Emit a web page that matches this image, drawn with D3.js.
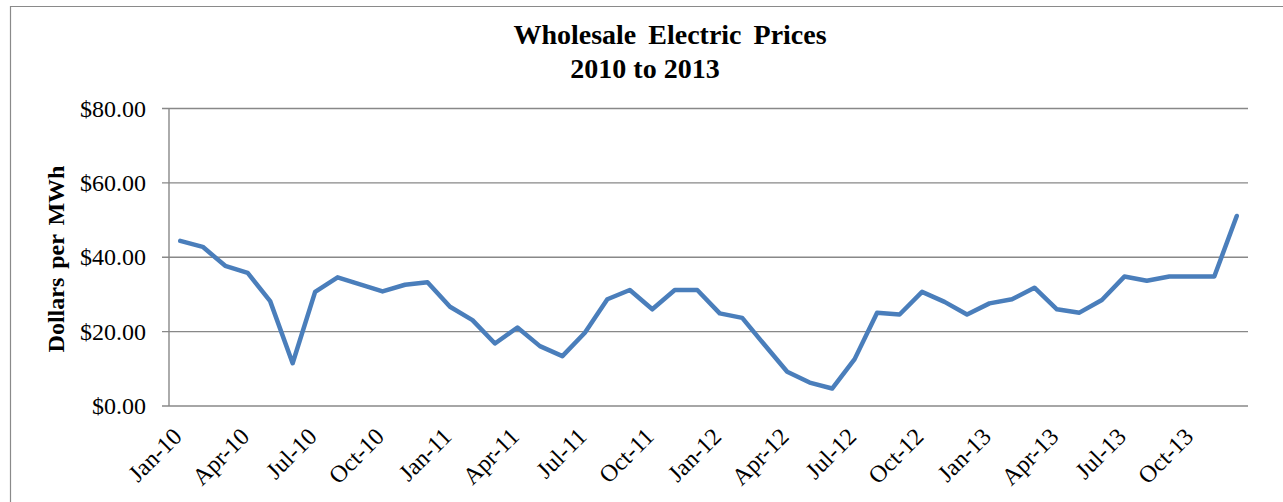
<!DOCTYPE html>
<html>
<head>
<meta charset="utf-8">
<script src="https://cdn.jsdelivr.net/npm/d3@7"></script>
<style>
  body { margin: 0; background: #fff; }
  svg { display: block; font-family: "Liberation Serif", "Times New Roman", serif; }
</style>
</head>
<body>
<div class="chart"></div>
<script>
// monthly wholesale prices, Jan-10 .. Dec-13
var months = [];
var monthNames = ["Jan","Feb","Mar","Apr","May","Jun","Jul","Aug","Sep","Oct","Nov","Dec"];
var years = ["10","11","12","13"];
years.forEach(function(y){
  monthNames.forEach(function(m){ months.push(m + "-" + y); });
});

var prices = [
  44.4, 42.8, 37.7, 35.8, 28.2, 11.5, 30.7, 34.6, 32.7, 30.8, 32.6, 33.3,
  26.7, 23.1, 16.8, 21.1, 16.1, 13.4, 19.7, 28.7, 31.2, 26.0, 31.2, 31.2,
  24.9, 23.7, 16.4, 9.2, 6.3, 4.7, 12.6, 25.1, 24.6, 30.7, 28.0, 24.6,
  27.6, 28.7, 31.8, 26.0, 25.1, 28.5, 34.8, 33.7, 34.8, 34.8, 34.8, 51.1
];

var yTicks = [0, 20, 40, 60, 80];
var xTickLabels = months.filter(function(d, i){ return i % 3 === 0; });

var width = 1283,
    height = 502,
    plotLeft = 169,
    plotRight = 1248,
    plotTop = 108.5,
    plotBottom = 406;

var svg = d3.select(".chart")
  .append("svg")
  .attr("width", width)
  .attr("height", height);

// outer frame
svg.append("path")
  .attr("d", "M10.5," + height + "V6.5H" + width)
  .attr("fill", "none")
  .attr("stroke", "#8a8a8a")
  .attr("stroke-width", 1.2);

var x = d3.scaleBand().domain(months).range([plotLeft, plotRight]);
var y = d3.scaleLinear().domain([0, 80]).range([plotBottom, plotTop]);

// gridlines + y ticks
svg.append("g")
  .selectAll("line")
  .data(yTicks)
  .enter().append("line")
  .attr("x1", plotLeft - 7)
  .attr("x2", plotRight)
  .attr("y1", function(d){ return y(d); })
  .attr("y2", function(d){ return y(d); })
  .attr("stroke", "#888")
  .attr("stroke-width", 1.4);

// y axis line
svg.append("line")
  .attr("x1", plotLeft).attr("x2", plotLeft)
  .attr("y1", y(80)).attr("y2", y(0))
  .attr("stroke", "#888")
  .attr("stroke-width", 1.4);

svg.append("g")
  .selectAll("text")
  .data(yTicks)
  .enter().append("text")
  .attr("x", 146)
  .attr("y", function(d){ return y(d); })
  .attr("dy", "0.34em")
  .attr("text-anchor", "end")
  .style("font-size", "24px")
  .text(function(d){ return "$" + d.toFixed(2); });

// x labels, rotated
svg.append("g")
  .selectAll("text")
  .data(xTickLabels)
  .enter().append("text")
  .attr("transform", function(d){
    return "translate(" + (x(d) + x.bandwidth() / 2 + 3) + "," + 438 + ") rotate(-45)";
  })
  .attr("text-anchor", "end")
  .style("font-size", "24px")
  .text(function(d){ return d; });

// price line
var line = d3.line()
  .x(function(d, i){ return x(months[i]) + x.bandwidth() / 2; })
  .y(function(d){ return y(d); });

svg.append("path")
  .datum(prices)
  .attr("d", line)
  .attr("fill", "none")
  .attr("stroke", "#4a7ebb")
  .attr("stroke-width", 4.5)
  .attr("stroke-linejoin", "round")
  .attr("stroke-linecap", "round");

// titles
svg.append("text")
  .attr("x", 670).attr("y", 44)
  .attr("text-anchor", "middle")
  .style("font-size", "28px")
  .style("font-weight", "bold")
  .style("word-spacing", "5px")
  .text("Wholesale Electric Prices");

svg.append("text")
  .attr("x", 645).attr("y", 78)
  .attr("text-anchor", "middle")
  .style("font-size", "28px")
  .style("font-weight", "bold")
  .text("2010 to 2013");

svg.append("text")
  .attr("transform", "translate(64,259) rotate(-90)")
  .attr("text-anchor", "middle")
  .style("font-size", "24px")
  .style("font-weight", "bold")
  .style("word-spacing", "3px")
  .text("Dollars per MWh");
</script>
</body>
</html>
